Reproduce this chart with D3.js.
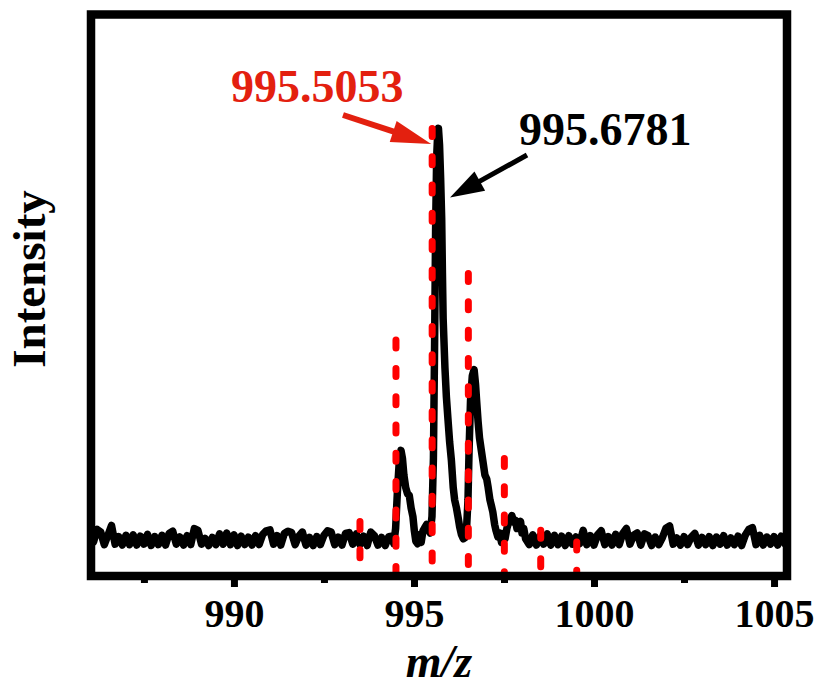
<!DOCTYPE html>
<html>
<head>
<meta charset="utf-8">
<script src="https://cdn.jsdelivr.net/npm/d3@7"></script>
<style>
  html, body { margin: 0; padding: 0; background: #fff; }
  svg { display: block; }
</style>
</head>
<body>
<svg id="chart" width="821" height="686"></svg>
<script>
// ---- Measured spectrum -------------------------------------------------
// Baseline stretches are sampled every 0.1 m/z; the isotope cluster is
// listed as explicit [m/z, intensity] pairs.
const leftStart = 986.1;
const rightStart = 998.2;
const sampleStep = 0.1;

const leftBaseline = [
  7.4, 10.2, 9.6, 6.8, 8.9, 11.1, 6.9, 8.6, 6.7, 8.9,
  6.8, 9.0, 6.7, 8.7, 6.9, 9.1, 6.6, 8.6, 6.8, 8.9,
  6.7, 9.3, 9.8, 6.9, 8.5, 6.7, 8.8, 6.8, 10.4, 10.0,
  6.9, 8.2, 6.6, 8.4, 6.8, 9.2, 6.9, 9.4, 6.8, 9.0,
  6.6, 8.7, 6.8, 8.5, 6.7, 8.8, 6.8, 9.1, 9.9, 10.1,
  6.9, 8.8, 6.7, 9.3, 9.8, 9.5, 6.8, 8.7, 9.6, 6.7,
  8.4, 6.6, 8.6, 6.8, 8.9, 9.9, 9.6, 6.8, 8.5, 6.7,
  9.3, 9.5, 6.9, 9.2, 6.8, 8.7, 6.6, 9.6, 8.8, 6.7,
  8.4, 6.6, 8.6
];

const clusterPoints = [
  [994.38, 8.7], [994.44, 7.0], [994.49, 10.4], [994.54, 18.7], [994.59, 25.2],
  [994.64, 27.9], [994.68, 26.1], [994.72, 22.4], [994.77, 19.6], [994.82, 18.2],
  [994.87, 17.8], [994.92, 15.0], [994.97, 13.1], [995.01, 9.9], [995.05, 7.6],
  [995.10, 7.0], [995.15, 9.0], [995.20, 7.3], [995.25, 9.9], [995.30, 10.6],
  [995.35, 11.3], [995.40, 10.4], [995.45, 9.4], [995.50, 13.1], [995.54, 26.1],
  [995.57, 49.2], [995.60, 76.9], [995.63, 93.5], [995.66, 99.1], [995.68, 100.0],
  [995.71, 96.3], [995.74, 88.9], [995.77, 79.7], [995.79, 67.7], [995.81, 57.5],
  [995.86, 46.4], [995.90, 39.9], [995.94, 35.3], [995.99, 29.8], [996.04, 25.6],
  [996.09, 19.6], [996.13, 16.8], [996.18, 15.0], [996.23, 12.7], [996.27, 10.7],
  [996.32, 9.0], [996.37, 8.1], [996.41, 8.3], [996.46, 10.4], [996.50, 16.8],
  [996.53, 27.9], [996.57, 39.0], [996.62, 44.6], [996.67, 46.0], [996.71, 42.7],
  [996.74, 39.0], [996.78, 34.4], [996.82, 30.7], [996.87, 27.9], [996.92, 25.2],
  [996.97, 22.4], [997.02, 21.5], [997.06, 19.6], [997.11, 16.8], [997.15, 15.5],
  [997.19, 14.1], [997.24, 11.3], [997.28, 9.9], [997.33, 8.5], [997.38, 9.4],
  [997.43, 7.3], [997.48, 9.3], [997.53, 8.1], [997.58, 10.4], [997.63, 11.8],
  [997.68, 12.7], [997.72, 13.3], [997.77, 11.8], [997.82, 12.2], [997.86, 10.4],
  [997.91, 11.3], [997.96, 12.0], [998.00, 9.4], [998.05, 10.4], [998.10, 8.1]
];

const rightBaseline = [
  6.8, 9.0, 6.7, 8.7, 6.9, 9.2, 6.7, 8.9, 6.8, 8.7,
  6.6, 8.8, 6.9, 8.5, 7.0, 10.0, 6.8, 8.8, 6.7, 9.0,
  9.9, 6.8, 8.6, 6.7, 9.1, 6.8, 9.3, 10.4, 6.9, 8.9,
  9.4, 6.7, 9.2, 8.8, 6.6, 8.5, 6.8, 8.4, 10.5, 11.0,
  6.9, 8.3, 6.7, 8.6, 6.8, 8.5, 9.3, 6.7, 8.4, 6.8,
  8.6, 6.6, 8.5, 6.9, 8.8, 6.7, 8.3, 6.8, 8.7, 6.6,
  8.9, 10.2, 10.6, 6.8, 8.9, 6.7, 8.5, 6.9, 8.6, 6.7,
  8.7, 7.0
];

// ---- Theoretical isotope pattern ----------------------------------------
const isotopeMz = [993.50, 994.50, 995.5053, 996.51, 997.51, 998.52, 999.52];
const isotopeIntensity = [12.0, 52.6, 100.0, 67.5, 26.1, 10.0, 7.4];

// ---- Axis ticks and annotation text -------------------------------------
const majorTicks = [990, 995, 1000, 1005];
const minorTicks = [987.5, 992.5, 997.5, 1002.5];
const theoryLabel = "995.5053";
const apexLabel = "995.6781";
const apexMz = 995.78;       // falling edge where the black arrow lands
const apexArrowLevel = 84.5;
const theoryArrowLevel = 96.5;

// ---- Assemble the spectrum ----------------------------------------------
const spectrum = [
  ...leftBaseline.map((v, i) => [+(leftStart + i * sampleStep).toFixed(2), v]),
  ...clusterPoints,
  ...rightBaseline.map((v, i) => [+(rightStart + i * sampleStep).toFixed(2), v])
];

// ---- Layout --------------------------------------------------------------
const frame = { left: 91, right: 787, top: 14.5, bottom: 576 };
const serif = "'Times New Roman', 'Liberation Serif', serif";
const red = "#ff0000";
const annotRed = "#e3200f";

const svg = d3.select("#chart");

const x = d3.scaleLinear().domain([986.03, 1005.36]).range([frame.left, frame.right]);
const y = d3.scaleLinear().domain([0, 125.5]).range([575, frame.top]);

// spectrum trace
svg.append("path")
  .datum(spectrum)
  .attr("fill", "none")
  .attr("stroke", "#000")
  .attr("stroke-width", 7.5)
  .attr("stroke-linejoin", "round")
  .attr("stroke-linecap", "round")
  .attr("d", d3.line().x(d => x(d[0])).y(d => y(d[1])));

// theoretical sticks, dashed, drawn from the top down
svg.append("g")
  .selectAll("line")
  .data(isotopeMz.map((m, i) => [m, isotopeIntensity[i]]))
  .join("line")
  .attr("x1", d => x(d[0]))
  .attr("x2", d => x(d[0]))
  .attr("y1", d => y(d[1]))
  .attr("y2", y(0))
  .attr("stroke", red)
  .attr("stroke-width", 7)
  .attr("stroke-linecap", "round")
  .attr("stroke-dasharray", "8,20.3");

// frame
svg.append("rect")
  .attr("x", frame.left)
  .attr("y", frame.top)
  .attr("width", frame.right - frame.left)
  .attr("height", frame.bottom - frame.top)
  .attr("fill", "none")
  .attr("stroke", "#000")
  .attr("stroke-width", 8.5);

// bottom axis: minor then major ticks
const minorAxis = svg.append("g")
  .attr("transform", `translate(0,${frame.bottom})`)
  .call(d3.axisBottom(x).tickValues(minorTicks).tickSize(7).tickFormat(""));
minorAxis.select(".domain").remove();
minorAxis.selectAll(".tick line").attr("stroke", "#000").attr("stroke-width", 7);

const majorAxis = svg.append("g")
  .attr("transform", `translate(0,${frame.bottom})`)
  .call(d3.axisBottom(x).tickValues(majorTicks).tickSize(11).tickFormat(d3.format("d")));
majorAxis.select(".domain").remove();
majorAxis.selectAll(".tick line").attr("stroke", "#000").attr("stroke-width", 7);
majorAxis.selectAll(".tick text")
  .attr("y", 51)
  .attr("dy", 0)
  .attr("fill", "#000")
  .style("font-family", serif)
  .style("font-weight", "bold")
  .style("font-size", "40px");

// axis titles
svg.append("text")
  .attr("x", (frame.left + frame.right) / 2)
  .attr("y", 677)
  .attr("text-anchor", "middle")
  .style("font-family", serif)
  .style("font-weight", "bold")
  .style("font-style", "italic")
  .style("font-size", "46px")
  .text("m/z");

svg.append("text")
  .attr("transform", "translate(45,279) rotate(-90)")
  .attr("text-anchor", "middle")
  .style("font-family", serif)
  .style("font-weight", "bold")
  .style("font-size", "47px")
  .text("Intensity");

// annotation arrows
function arrow(x1, y1, x2, y2, color, shaftW, headLen, headHalf) {
  const dx = x2 - x1, dy = y2 - y1, L = Math.hypot(dx, dy);
  const ux = dx / L, uy = dy / L;
  const bx = x2 - ux * headLen, by = y2 - uy * headLen;
  svg.append("line")
    .attr("x1", x1).attr("y1", y1)
    .attr("x2", bx + ux * 3).attr("y2", by + uy * 3)
    .attr("stroke", color).attr("stroke-width", shaftW);
  svg.append("path")
    .attr("d", `M${x2},${y2}L${bx - uy * headHalf},${by + ux * headHalf}L${bx + uy * headHalf},${by - ux * headHalf}Z`)
    .attr("fill", color);
}

arrow(343, 115, x(isotopeMz[2]) - 1, y(theoryArrowLevel), annotRed, 6, 40, 11);
arrow(527, 155, x(apexMz) + 8, y(apexArrowLevel), "#000", 5, 34, 11);

// annotation labels
svg.append("text")
  .attr("x", 231)
  .attr("y", 102)
  .attr("fill", annotRed)
  .style("font-family", serif)
  .style("font-weight", "bold")
  .style("font-size", "46px")
  .text(theoryLabel);

svg.append("text")
  .attr("x", 519)
  .attr("y", 145)
  .attr("fill", "#000")
  .style("font-family", serif)
  .style("font-weight", "bold")
  .style("font-size", "46px")
  .text(apexLabel);
</script>
</body>
</html>
